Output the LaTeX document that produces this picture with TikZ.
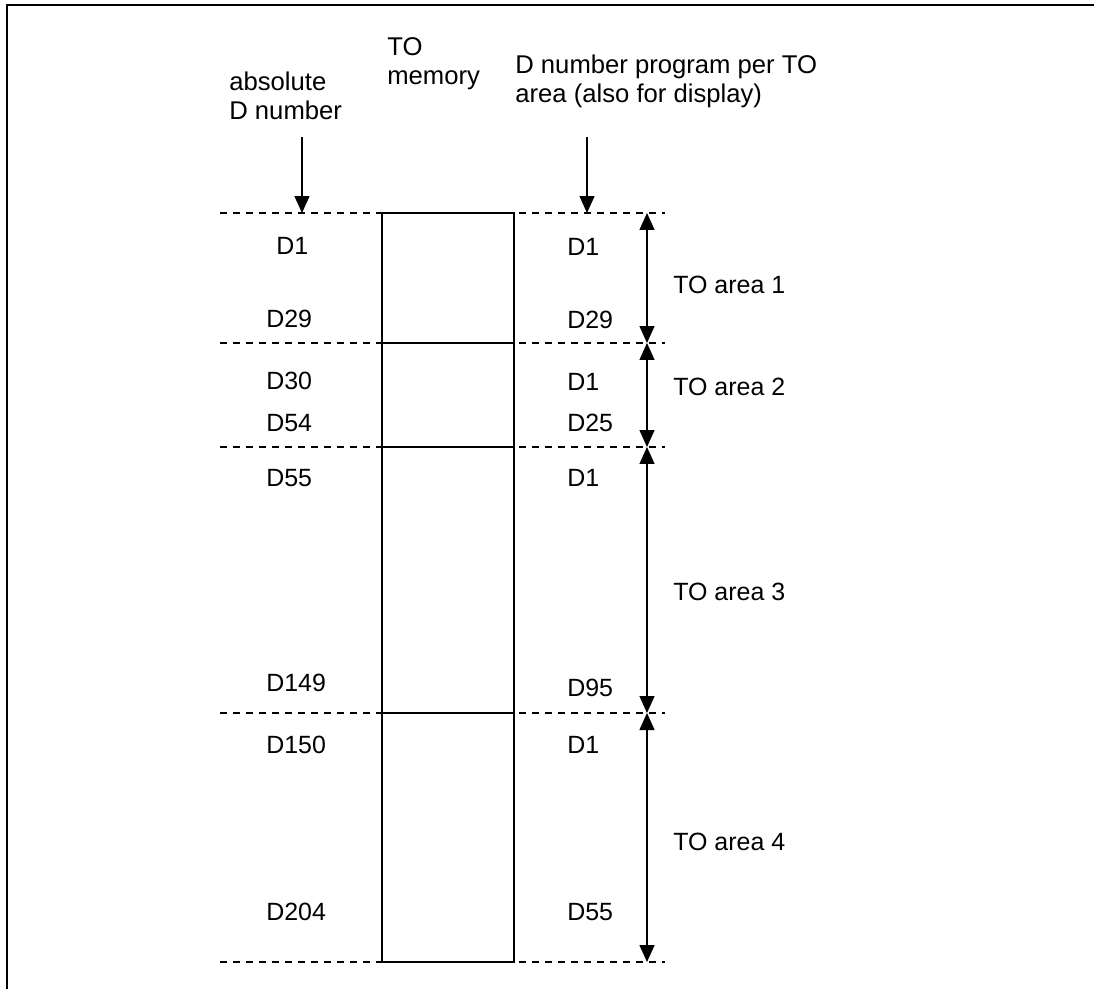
\documentclass[tikz,border=0pt]{standalone}
\usepackage{fontspec}
\setmainfont{Liberation Sans}
\usetikzlibrary{arrows.meta,positioning}

\begin{document}
\begin{tikzpicture}[x=0.02cm, y=-0.02cm,
  every node/.style={font=\fontsize{14.2}{17}\selectfont, inner sep=0pt},
  hd/.style={align=left, anchor=base west, font=\fontsize{14.6}{17}\selectfont},
  dnum/.style={anchor=west},
  lvl/.style={dash pattern=on 4pt off 3.4pt, line width=0.8pt},
  ar/.style={-{Triangle[length=0.34cm,width=0.3cm]}, line width=0.8pt},
  dar/.style={{Triangle[length=0.34cm,width=0.3cm]}-{Triangle[length=0.34cm,width=0.3cm]}, line width=0.8pt}]

\useasboundingbox (0,0) rectangle (1094,989);

%% --- frame ---
\draw[line width=1pt] (7,989) -- (7,5) -- (1094,5);

%% --- headings (base = last line) ---
\node[hd] (ABS)  at (229,120) {absolute\\D number};
\node[hd] (MEM)  at (387, 85) {TO\\memory};
\node[hd] (PROG) at (515,103) {D number program per TO\\area (also for display)};

%% --- TO memory block ---
\draw[line width=0.8pt] (382,213) rectangle (514,962);
\draw[line width=0.8pt] (382,343) -- (514,343);
\draw[line width=0.8pt] (382,447) -- (514,447);
\draw[line width=0.8pt] (382,713) -- (514,713);

%% --- area limits ---
\coordinate (L0) at (647,213);
\coordinate (L1) at (647,343);
\coordinate (L2) at (647,447);
\coordinate (L3) at (647,713);
\coordinate (L4) at (647,962);
\draw[lvl] (220,213) -- (665,213);
\draw[lvl] (220,343) -- (665,343);
\draw[lvl] (220,447) -- (665,447);
\draw[lvl] (220,713) -- (665,713);
\draw[lvl] (220,962) -- (665,962);

%% --- absolute D numbers ---
\node[dnum] (A1)   at (276,246) {D1};
\node[dnum] (A29)  at (266,319) {D29};
\node[dnum] (A30)  at (266,381) {D30};
\node[dnum] (A54)  at (266,423) {D54};
\node[dnum] (A55)  at (266,478) {D55};
\node[dnum] (A149) at (266,683) {D149};
\node[dnum] (A150) at (266,745) {D150};
\node[dnum] (A204) at (266,912) {D204};

%% --- D numbers per TO area ---
\node[dnum] (P1a) at (567,247) {D1};
\node[dnum] (P29) at (567,320) {D29};
\node[dnum] (P1b) at (567,382) {D1};
\node[dnum] (P25) at (567,423) {D25};
\node[dnum] (P1c) at (567,478) {D1};
\node[dnum] (P95) at (567,688) {D95};
\node[dnum] (P1d) at (567,745) {D1};
\node[dnum] (P55) at (567,912) {D55};

%% --- TO areas ---
\node[dnum] (TA1) at (673,285) {TO area 1};
\node[dnum] (TA2) at (673,387) {TO area 2};
\node[dnum] (TA3) at (673,592) {TO area 3};
\node[dnum] (TA4) at (673,842) {TO area 4};

%% --- Arrows ---
\coordinate (ABSs)  at (302,137);
\coordinate (ABSe)  at (302,213);
\coordinate (PROGs) at (587,137);
\coordinate (PROGe) at (587,213);
\draw[ar] (ABSs)  -- (ABSe);
\draw[ar] (PROGs) -- (PROGe);
\draw[dar] (L0) -- (L1);
\draw[dar] (L1) -- (L2);
\draw[dar] (L2) -- (L3);
\draw[dar] (L3) -- (L4);
\end{tikzpicture}
\end{document}
